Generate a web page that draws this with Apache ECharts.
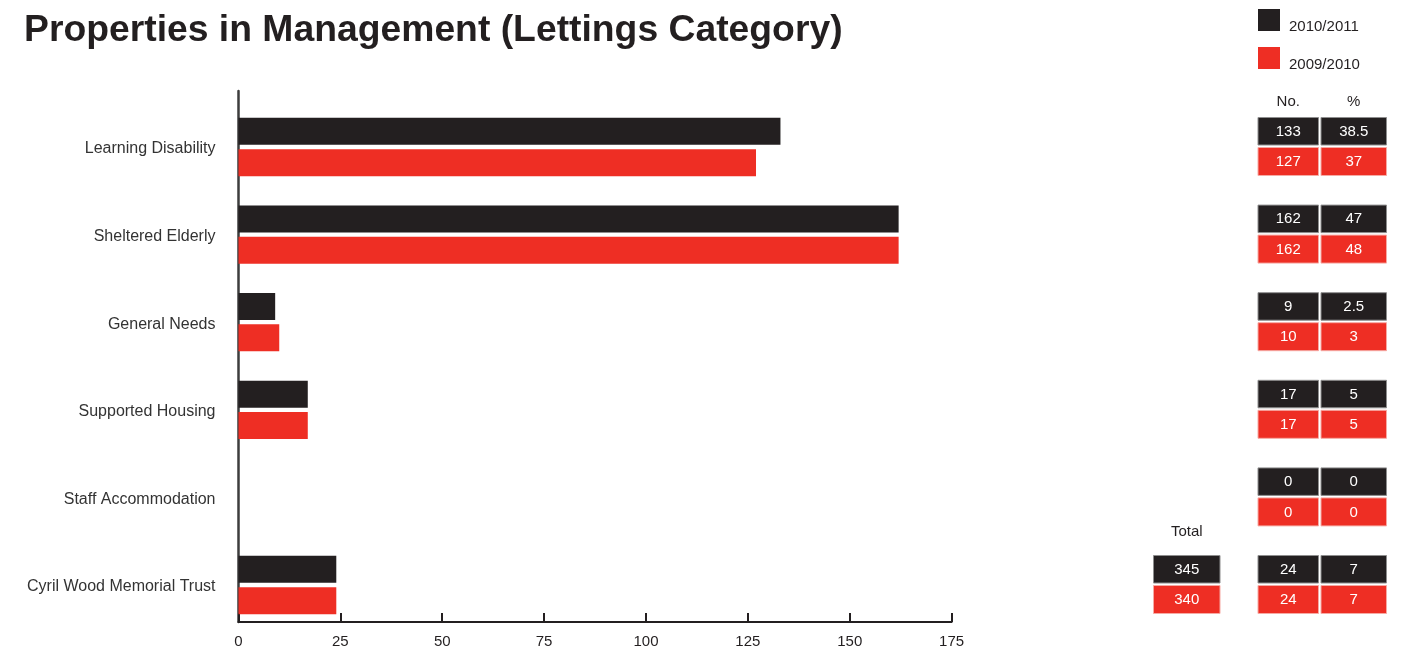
<!DOCTYPE html>
<html>
<head>
<meta charset="utf-8">
<title>Properties in Management (Lettings Category)</title>
<script src="https://cdn.jsdelivr.net/npm/echarts@6/dist/echarts.min.js"></script>
<style>
  html, body { margin: 0; padding: 0; background: #ffffff; }
  #chart { width: 1404px; height: 649px; }
</style>
</head>
<body>
<div id="chart"></div>
<script>
// Lettings categories, top to bottom
const categories = [
  'Learning Disability',
  'Sheltered Elderly',
  'General Needs',
  'Supported Housing',
  'Staff Accommodation',
  'Cyril Wood Memorial Trust'
];
const seriesNames = ['2010/2011', '2009/2010'];

// Number of properties per category
const count2011 = [133, 162, 9, 17, 0, 24];
const count2010 = [127, 162, 10, 17, 0, 24];

// Share of all properties (%)
const pct2011 = ['38.5', '47', '2.5', '5', '0', '7'];
const pct2010 = ['37', '48', '3', '5', '0', '7'];

// Totals
const totals = [345, 340];

// Value axis ticks
const xMin = 0, xMax = 175, xStep = 25;

const FONT = "'Liberation Sans', Arial, Helvetica, sans-serif";
const INK = '#231f20';
const RED = '#ee2e24';

const chart = echarts.init(document.getElementById('chart'), null, { renderer: 'canvas' });

const option = {
  animation: false,
  backgroundColor: '#ffffff',
  title: {
    text: 'Properties in Management (Lettings Category)',
    left: 24,
    top: 12,
    padding: 0,
    textStyle: { fontFamily: FONT, fontSize: 37.3, fontWeight: 'bold', color: INK }
  },
  legend: {
    data: seriesNames,
    orient: 'vertical',
    left: 1258,
    top: 9,
    padding: 0,
    icon: 'rect',
    itemWidth: 22,
    itemHeight: 22,
    itemGap: 12.5,
    formatter: name => '{t|' + name + '}',
    textStyle: {
      rich: {
        t: { fontFamily: FONT, fontSize: 15, color: INK, padding: [14, 0, 0, 4] }
      }
    }
  },
  grid: [
    // bars
    { left: 238.5, right: 452.4, top: 103.2, bottom: 20.2 },
    // axis frame
    { left: 238.5, right: 452.4, top: 91, bottom: 26.3 }
  ],
  xAxis: [
    { gridIndex: 0, type: 'value', min: xMin, max: xMax, interval: xStep, show: false },
    {
      gridIndex: 1, type: 'value', min: xMin, max: xMax, interval: xStep,
      axisLine: { show: true, lineStyle: { color: INK, width: 2 } },
      axisTick: { show: true, inside: true, length: 9, lineStyle: { color: INK, width: 2 } },
      axisLabel: { fontFamily: FONT, fontSize: 15, color: INK, margin: 12 },
      splitLine: { show: false }
    }
  ],
  yAxis: [
    {
      gridIndex: 0, type: 'category', data: categories, inverse: true,
      axisLine: { show: false }, axisTick: { show: false },
      axisLabel: {
        margin: 23,
        formatter: v => '{c|' + v + '}',
        rich: { c: { fontFamily: FONT, fontSize: 16, color: '#333333', padding: [4, 0, 0, 0] } }
      }
    },
    {
      gridIndex: 1, type: 'value', min: 0, max: 1,
      axisLine: { show: true, lineStyle: { color: '#3d3d3d', width: 2.5 } },
      axisTick: { show: false }, axisLabel: { show: false }, splitLine: { show: false }
    }
  ],
  series: [
    {
      name: seriesNames[0], type: 'bar', xAxisIndex: 0, yAxisIndex: 0,
      data: count2011, barWidth: 27, barGap: '16%',
      itemStyle: { color: INK }
    },
    {
      name: seriesNames[1], type: 'bar', xAxisIndex: 0, yAxisIndex: 0,
      data: count2010, barWidth: 27, barGap: '16%',
      itemStyle: { color: RED }
    }
  ]
};

chart.setOption(option);

// Side table: No. / % per category, aligned to the category rows
function cell(x, y, w, h, fill, stroke, text) {
  return [
    { type: 'rect', shape: { x: x, y: y, width: w, height: h },
      style: { fill: fill, stroke: stroke, lineWidth: 1 }, z: 10 },
    { type: 'text', x: x + w / 2, y: y + h / 2 + 0.5, z: 11,
      style: { text: String(text), fill: '#ffffff', font: '15px ' + FONT,
               textAlign: 'center', textVerticalAlign: 'middle',
               align: 'center', verticalAlign: 'middle' } }
  ];
}
function label(x, y, text) {
  return { type: 'text', x: x, y: y, z: 11,
    style: { text: text, fill: INK, font: '15px ' + FONT,
             textAlign: 'center', textVerticalAlign: 'middle',
             align: 'center', verticalAlign: 'middle' } };
}

const colNo = { x: 1258, w: 60.5 };
const colPct = { x: 1321, w: 65.5 };
const colTotal = { x: 1153.5, w: 66.5 };
const STROKE_DARK = '#8e8e8e';
const STROKE_RED = '#f6aaa4';

let elems = [];
const rowY = categories.map(c => chart.convertToPixel({ yAxisIndex: 0 }, c));
categories.forEach((c, i) => {
  const cy = rowY[i];
  elems = elems.concat(
    cell(colNo.x, cy - 29.5, colNo.w, 27.5, INK, STROKE_DARK, count2011[i]),
    cell(colPct.x, cy - 29.5, colPct.w, 27.5, INK, STROKE_DARK, pct2011[i]),
    cell(colNo.x, cy + 0.5, colNo.w, 28, RED, STROKE_RED, count2010[i]),
    cell(colPct.x, cy + 0.5, colPct.w, 28, RED, STROKE_RED, pct2010[i])
  );
});
elems.push(label(colNo.x + colNo.w / 2, rowY[0] - 45, 'No.'));
elems.push(label(colPct.x + colPct.w / 2, rowY[0] - 45, '%'));

const lastY = rowY[rowY.length - 1];
elems = elems.concat(
  cell(colTotal.x, lastY - 29.5, colTotal.w, 27.5, INK, STROKE_DARK, totals[0]),
  cell(colTotal.x, lastY + 0.5, colTotal.w, 28, RED, STROKE_RED, totals[1])
);
elems.push(label(colTotal.x + colTotal.w / 2, lastY - 53, 'Total'));

chart.setOption({ graphic: elems });
</script>
</body>
</html>
